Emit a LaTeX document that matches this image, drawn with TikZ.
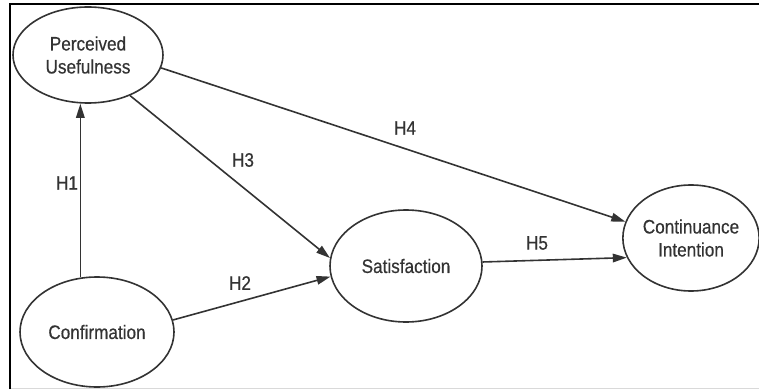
\documentclass[tikz,border=0pt]{standalone}
\usepackage{fontspec}
\setmainfont[FakeStretch=0.88,FakeBold=0.5]{Liberation Sans}
\usetikzlibrary{shapes.geometric,arrows.meta}
\definecolor{ink}{HTML}{333333}
\tikzset{
  construct/.style={ellipse,draw=ink,line width=1.6pt,inner sep=0pt,align=center,
    text=ink,font=\fontsize{19.5}{23}\selectfont},
  hyp/.style={text=ink,font=\fontsize{19.5}{23}\selectfont},
  link/.style={draw=ink,line width=1.6pt,-{Triangle[length=14pt,width=8.5pt]}}
}
\begin{document}
\begin{tikzpicture}[x=1pt,y=-1pt]
      \useasboundingbox (0,0) rectangle (759,390);
      \draw[black!15,line width=1pt] (10,388.5) -- (759,388.5);
      \draw[line width=2pt] (10,389) -- (10,4.5) -- (759,4.5);
      \draw
        (88,55) node[construct,minimum width=150pt,minimum height=96pt] (pu){Perceived\\Usefulness}
        (97,332) node[construct,minimum width=154pt,minimum height=110pt] (conf){Confirmation}
        (406,266) node[construct,minimum width=152pt,minimum height=112pt] (sat){Satisfaction}
        (691,238) node[construct,minimum width=136pt,minimum height=106pt] (ci){Continuance\\Intention};
      \draw
        (67,183) node[hyp] (h1){H1}
        (240,283) node[hyp] (h2){H2}
        (243,160) node[hyp] (h3){H3}
        (405,128) node[hyp] (h4){H4}
        (537,243) node[hyp] (h5){H5};
      \begin{scope}[link]
        \draw (conf.107) to (conf.107 |- pu.south);
        \draw (conf.9) to (sat.188);
        \draw (pu.-44) to (sat.174);
        \draw (pu.-10) to (ci.166);
        \draw (sat.3) to (ci.197);
      \end{scope}
    \end{tikzpicture}
\end{document}
